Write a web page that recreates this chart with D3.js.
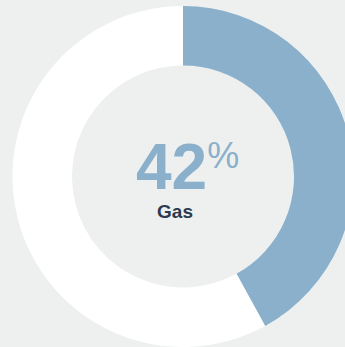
<!DOCTYPE html>
<html>
<head>
<meta charset="utf-8">
<script src="https://cdn.jsdelivr.net/npm/d3@7"></script>
<style>
  html, body { margin: 0; padding: 0; background: #eef0ef; overflow: hidden; }
  svg { display: block; }
</style>
</head>
<body>
<svg id="chart" width="345" height="347"></svg>
<script>
// Share of the energy mix shown in the donut
const categories = ["Gas", "Other"];
const values = [42, 58];
const colors = ["#8ab0cc", "#ffffff"];
const highlightLabel = "Gas";

const width = 345, height = 347;
const cx = 183, cy = 176.5;
const outerR = 170.5, innerR = 111;

const svg = d3.select("#chart");
svg.append("rect").attr("width", width).attr("height", height).attr("fill", "#eef0ef");

const pie = d3.pie().sort(null).value(d => d)(values);
const arc = d3.arc().innerRadius(innerR).outerRadius(outerR);

const g = svg.append("g").attr("transform", `translate(${cx},${cy})`);
g.selectAll("path")
  .data(pie)
  .join("path")
  .attr("d", arc)
  .attr("fill", (d, i) => colors[i]);

// Centre label: value with superscript percent sign, then category name
const pct = values[categories.indexOf(highlightLabel)];
const label = g.append("text")
  .attr("x", -47)
  .attr("y", 12.5)
  .attr("font-family", "'Liberation Sans', Arial, Helvetica, sans-serif")
  .attr("fill", "#8ab0cc");
label.append("tspan")
  .attr("font-size", 64)
  .attr("font-weight", "bold")
  .text(pct);
label.append("tspan")
  .attr("font-size", 36)
  .attr("dy", -21)
  .text("%");

g.append("text")
  .attr("x", -8)
  .attr("y", 41)
  .attr("text-anchor", "middle")
  .attr("font-family", "'Liberation Sans', Arial, Helvetica, sans-serif")
  .attr("font-size", 19)
  .attr("font-weight", "bold")
  .attr("fill", "#2b3a4e")
  .text(highlightLabel);
</script>
</body>
</html>
